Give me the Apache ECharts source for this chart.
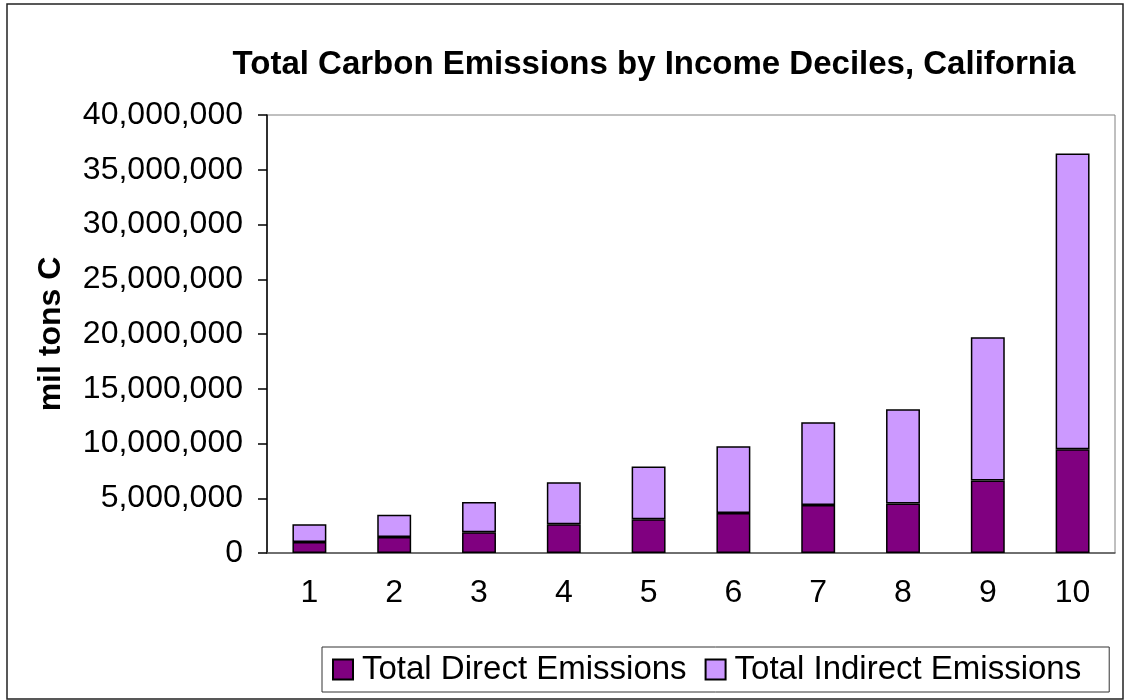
<!DOCTYPE html>
<html>
<head>
<meta charset="utf-8">
<script src="https://cdn.jsdelivr.net/npm/echarts@6/dist/echarts.min.js"></script>
<style>
  html, body { margin: 0; padding: 0; background: #fff; }
  #chart { width: 1127px; height: 700px; }
</style>
</head>
<body>
<div id="chart"></div>
<script>
// deciles on the x axis
var deciles = ['1', '2', '3', '4', '5', '6', '7', '8', '9', '10'];
// tons C
var directEmissions = [1000000, 1460000, 1890000, 2620000, 3080000, 3660000, 4390000, 4510000, 6610000, 9470000];
var indirectEmissions = [1620000, 2040000, 2770000, 3840000, 4810000, 6090000, 7550000, 8620000, 13100000, 27020000];
var seriesNames = ['Total Direct Emissions', 'Total Indirect Emissions'];
var seriesColors = ['#800080', '#CC99FF'];

var fontFamily = 'Liberation Sans, Arial, sans-serif';

function withCommas(v) {
  return String(v).replace(/\B(?=(\d{3})+(?!\d))/g, ',');
}

var myChart = echarts.init(document.getElementById('chart'), null, { renderer: 'canvas' });

var option = {
  backgroundColor: '#fff',
  animation: false,
  title: {
    text: 'Total Carbon Emissions by Income Deciles, California',
    left: 649,
    top: 43,
    textAlign: 'center',
    textStyle: { fontFamily: fontFamily, fontSize: 33, fontWeight: 'bold', color: '#000' }
  },
  graphic: [{
    type: 'rect',
    shape: { x: 7, y: 4, width: 1116, height: 695 },
    style: { fill: 'none', stroke: '#222', lineWidth: 1.5 },
    silent: true
  }],
  legend: {
    data: seriesNames,
    left: 322,
    top: 647,
    orient: 'horizontal',
    padding: [6, 28, 6, 10],
    itemGap: 18,
    itemWidth: 20,
    itemHeight: 20,
    borderColor: '#333',
    borderWidth: 1,
    icon: 'rect',
    textStyle: { fontFamily: fontFamily, fontSize: 33, color: '#000', padding: [0, 0, 0, 4] }
  },
  grid: {
    left: 267,
    right: 12,
    top: 115,
    bottom: 147,
    show: true,
    borderColor: '#808080',
    borderWidth: 1,
    containLabel: false
  },
  xAxis: {
    type: 'category',
    data: deciles,
    axisLine: { lineStyle: { color: '#555', width: 1.5 } },
    axisTick: { show: false },
    axisLabel: { fontFamily: fontFamily, fontSize: 32, color: '#000', margin: 24 }
  },
  yAxis: {
    type: 'value',
    min: 0,
    max: 40000000,
    interval: 5000000,
    name: 'mil tons C',
    nameLocation: 'middle',
    nameRotate: 90,
    nameGap: 200,
    nameTextStyle: { fontFamily: fontFamily, fontSize: 32, fontWeight: 'bold', color: '#000' },
    axisLine: { show: true, lineStyle: { color: '#000', width: 1.5 } },
    axisTick: { show: true, length: 9, lineStyle: { color: '#000', width: 1.5 } },
    splitLine: { show: false },
    axisLabel: {
      fontFamily: fontFamily, fontSize: 32, color: '#000', margin: 24,
      formatter: function(v) { return withCommas(v); }
    }
  },
  series: [{
    name: seriesNames[0],
    type: 'bar',
    stack: 'total',
    barWidth: '40%',
    data: directEmissions,
    itemStyle: { color: seriesColors[0], borderColor: '#000', borderWidth: 1.5 }
  }, {
    name: seriesNames[1],
    type: 'bar',
    stack: 'total',
    barWidth: '40%',
    data: indirectEmissions,
    itemStyle: { color: seriesColors[1], borderColor: '#000', borderWidth: 1.5 }
  }]
};

myChart.setOption(option);
</script>
</body>
</html>
